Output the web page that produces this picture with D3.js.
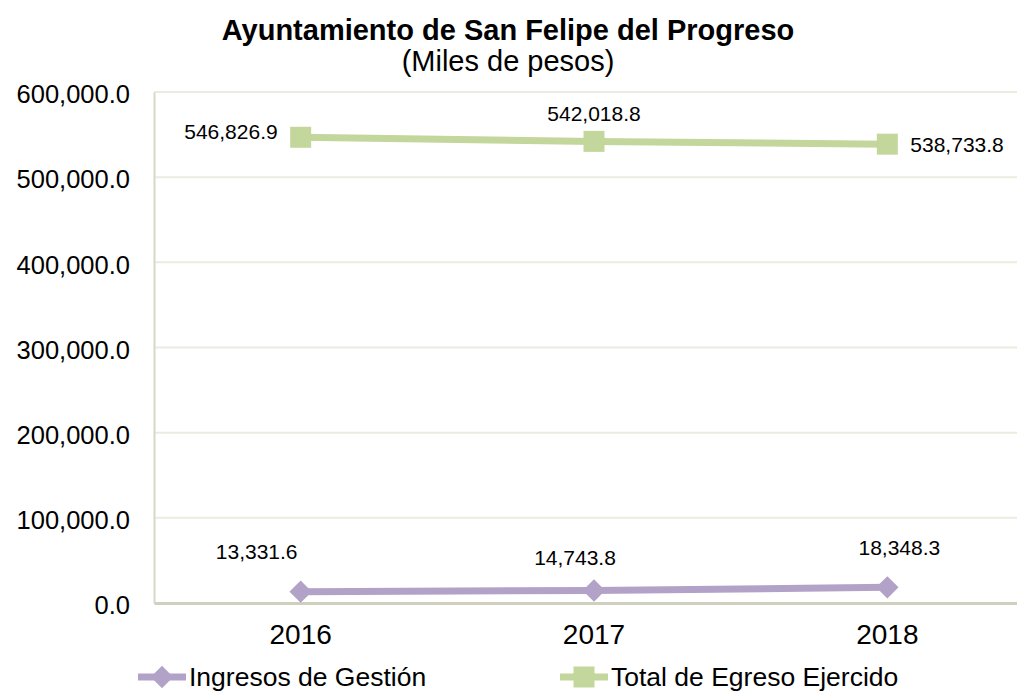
<!DOCTYPE html>
<html>
<head>
<meta charset="utf-8">
<script src="https://cdn.jsdelivr.net/npm/d3@7"></script>
<style>
  body { margin: 0; background: #fff; }
  svg { display: block; font-family: Arial, "Liberation Sans", sans-serif; }
</style>
</head>
<body>
<div id="chart"></div>
<script>
// data
const years = ['2016', '2017', '2018'];
const ingresos = [13331.6, 14743.8, 18348.3];
const egresos = [546826.9, 542018.8, 538733.8];
const yTicks = [0, 100000, 200000, 300000, 400000, 500000, 600000];

const seriesNames = ['Ingresos de Gestión', 'Total de Egreso Ejercido'];
const seriesColors = ['#b3a2c7', '#c3d69b'];

// label offsets (dx, dy, anchor) relative to each point
const ingresosLabelPos = [[-44, -40, 'middle'], [-19, -33, 'middle'], [12, -40, 'middle']];
const egresosLabelPos = [[-23, -6, 'end'], [0, -28, 'middle'], [23, 0, 'start']];

const width = 1017, height = 691;
const margin = {top: 92, right: -17, bottom: 88, left: 154};
const innerW = width - margin.left - margin.right;
const innerH = height - margin.top - margin.bottom;

const svg = d3.select('#chart').append('svg')
  .attr('width', width)
  .attr('height', height);

const g = svg.append('g')
  .attr('transform', `translate(${margin.left},${margin.top})`);

const x = d3.scaleBand().domain(years).range([0, innerW]);
const y = d3.scaleLinear().domain([0, 600000]).range([innerH, 0]);
const xc = d => x(d) + x.bandwidth() / 2;
const fmt = d3.format(',.1f');

// title
svg.append('text')
  .attr('x', 508).attr('y', 40)
  .attr('text-anchor', 'middle')
  .style('font-size', '29px').style('font-weight', 'bold')
  .text('Ayuntamiento de San Felipe del Progreso');
svg.append('text')
  .attr('x', 508).attr('y', 71)
  .attr('text-anchor', 'middle')
  .style('font-size', '29px')
  .text('(Miles de pesos)');

// gridlines
g.selectAll('.grid')
  .data(yTicks.filter(d => d > 0))
  .enter().append('line')
  .attr('class', 'grid')
  .attr('x1', 0).attr('x2', innerW)
  .attr('y1', d => y(d)).attr('y2', d => y(d))
  .attr('stroke', '#ecebe0').attr('stroke-width', 2);

// y axis
const yAxis = g.append('g')
  .call(d3.axisLeft(y).tickValues(yTicks).tickFormat(fmt).tickSize(0).tickPadding(24));
yAxis.select('.domain').attr('stroke', '#d8d8c8').attr('stroke-width', 2);
yAxis.selectAll('text').style('font-size', '25.5px').attr('fill', '#000').attr('dy', '0.42em');

// x axis
const xAxis = g.append('g')
  .attr('transform', `translate(0,${innerH})`)
  .call(d3.axisBottom(x).tickSize(0).tickPadding(21));
xAxis.select('.domain').attr('stroke', '#d0d0bf').attr('stroke-width', 3);
xAxis.selectAll('text').style('font-size', '28px').attr('fill', '#000');

const line = d3.line().x((d, i) => xc(years[i])).y(d => y(d));

function drawSeries(values, color, marker, labelPos) {
  g.append('path')
    .datum(values)
    .attr('d', line)
    .attr('fill', 'none')
    .attr('stroke', color)
    .attr('stroke-width', 7);

  const sym = marker === 'square'
    ? d3.symbol().type(d3.symbolSquare).size(441)
    : d3.symbol().type(d3.symbolDiamond2).size(320);
  g.selectAll(null)
    .data(values)
    .enter().append('path')
    .attr('d', sym)
    .attr('transform', (d, i) => `translate(${xc(years[i])},${y(d)})`)
    .attr('fill', color);

  g.selectAll(null)
    .data(values)
    .enter().append('text')
    .attr('x', (d, i) => xc(years[i]) + labelPos[i][0])
    .attr('y', (d, i) => y(d) + labelPos[i][1])
    .attr('dy', '0.35em')
    .attr('text-anchor', (d, i) => labelPos[i][2])
    .style('font-size', '21px')
    .text(d => fmt(d));
}

drawSeries(egresos, seriesColors[1], 'square', egresosLabelPos);
drawSeries(ingresos, seriesColors[0], 'diamond', ingresosLabelPos);

// legend
const legendX = [138, 560];
const legend = svg.selectAll('.legend')
  .data(seriesNames)
  .enter().append('g')
  .attr('transform', (d, i) => `translate(${legendX[i]},677)`);
legend.append('line')
  .attr('x1', 0).attr('x2', 48)
  .attr('stroke', (d, i) => seriesColors[i]).attr('stroke-width', 7);
legend.append('path')
  .attr('d', (d, i) => i === 0
    ? d3.symbol().type(d3.symbolDiamond2).size(320)()
    : d3.symbol().type(d3.symbolSquare).size(441)())
  .attr('transform', 'translate(24,0)')
  .attr('fill', (d, i) => seriesColors[i]);
legend.append('text')
  .attr('x', 51).attr('dy', '0.35em')
  .style('font-size', '26.5px')
  .text(d => d);
</script>
</body>
</html>
